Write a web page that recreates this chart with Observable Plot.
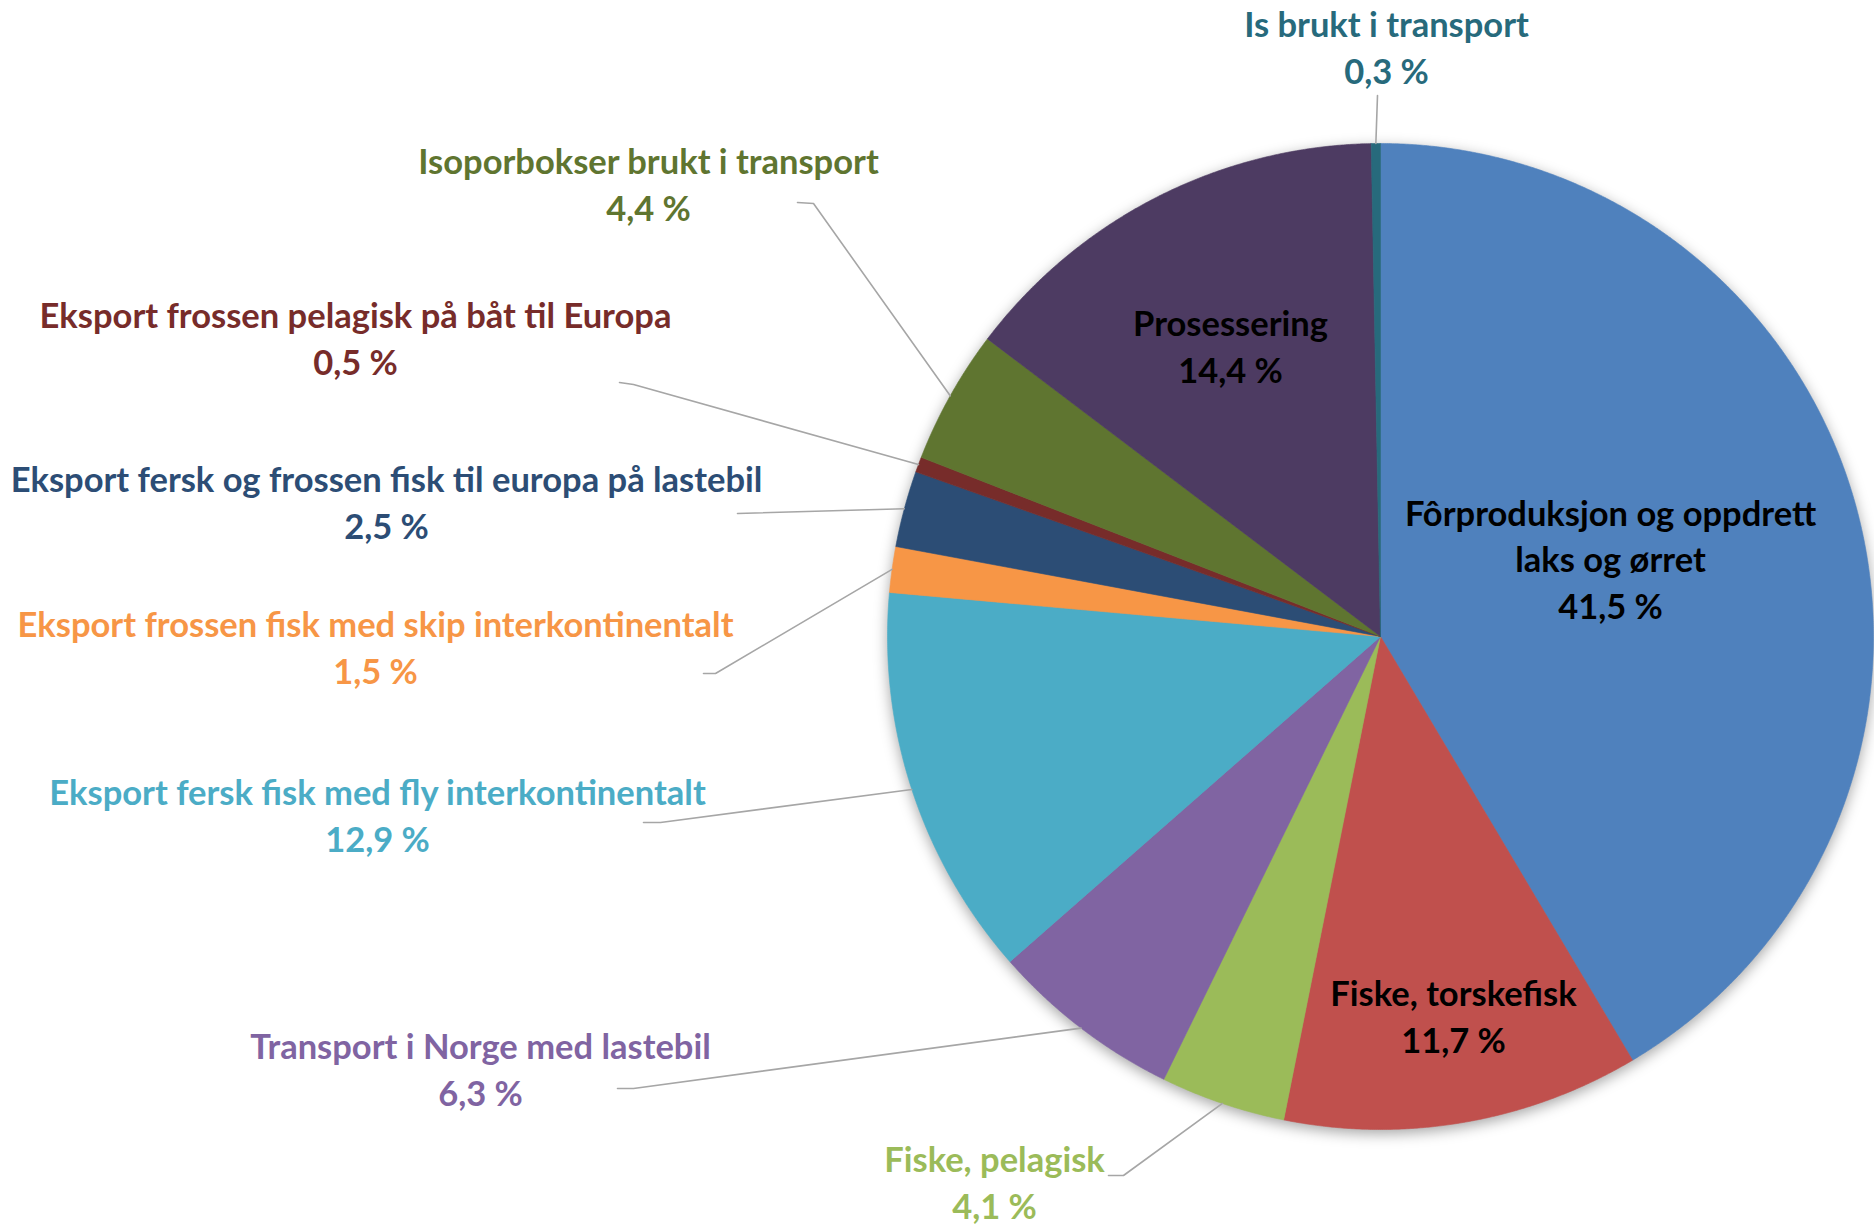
<!DOCTYPE html>
<html>
<head>
<meta charset="utf-8">
<script src="https://cdn.jsdelivr.net/npm/d3@7"></script>
<script src="https://cdn.jsdelivr.net/npm/@observablehq/plot@0.6"></script>
<style>
  html, body { margin: 0; padding: 0; background: #ffffff; }
  #chart svg { display: block; }
</style>
</head>
<body>
<div id="chart"></div>
<script>
// ---- data ----
const names = [
  "Fôrproduksjon og oppdrett laks og ørret",
  "Fiske, torskefisk",
  "Fiske, pelagisk",
  "Transport i Norge med lastebil",
  "Eksport fersk fisk med fly interkontinentalt",
  "Eksport frossen fisk med skip interkontinentalt",
  "Eksport fersk og frossen fisk til europa på lastebil",
  "Eksport frossen pelagisk på båt til Europa",
  "Isoporbokser brukt i transport",
  "Prosessering",
  "Is brukt i transport"
];
const values = [41.5, 11.7, 4.1, 6.3, 12.9, 1.5, 2.5, 0.5, 4.4, 14.4, 0.3];
const labelLines = [
  "Fôrproduksjon og oppdrett\nlaks og ørret",
  "Fiske, torskefisk",
  "Fiske, pelagisk",
  "Transport i Norge med lastebil",
  "Eksport fersk fisk med fly interkontinentalt",
  "Eksport frossen fisk med skip interkontinentalt",
  "Eksport fersk og frossen fisk til europa på lastebil",
  "Eksport frossen pelagisk på båt til Europa",
  "Isoporbokser brukt i transport",
  "Prosessering",
  "Is brukt i transport"
];
const colors = ["#4F81BD", "#C0504D", "#9BBB59", "#8064A2", "#4BACC6", "#F79646",
                "#2C4D75", "#772C2A", "#5F7530", "#4D3B62", "#276A7C"];

// ---- layout (label block centres, leader-line start & elbow) ----
const layout = [
  {x: 1610, y: 557, inside: true},
  {x: 1453, y: 1014, inside: true},
  {x: 994, y: 1180, leader: [[1108, 1175], [1123, 1175]]},
  {x: 480, y: 1067, leader: [[617, 1088], [633, 1088]]},
  {x: 377, y: 813, leader: [[643, 822], [660, 822]]},
  {x: 375, y: 645, leader: [[703, 673], [715, 673]]},
  {x: 386, y: 500, leader: [[737, 513], [737, 513]]},
  {x: 355, y: 336, leader: [[619, 382], [633, 384]]},
  {x: 648, y: 182, leader: [[797, 202], [813, 203]]},
  {x: 1230, y: 344, inside: true},
  {x: 1386, y: 45, leader: [[1377, 95], [1377, 95]]}
];

const W = 1874, H = 1225, CX = 1380, CY = 636, R = 493;
const FONT = "Lato, 'Open Sans', sans-serif";
const FS = 34.5;

const rows = names.map((name, i) => ({name, value: values[i], i}));
const arcs = d3.pie().sort(null).value(d => d.value).startAngle(0).endAngle(2 * Math.PI)(rows);

const fmt = v => v.toFixed(1).replace(".", ",") + " %";

// slice polygons
const slicePts = arcs.flatMap(a => {
  const name = a.data.name;
  const pts = [{name, x: CX, y: CY}];
  const n = Math.max(3, Math.ceil((a.endAngle - a.startAngle) / 0.004));
  for (let k = 0; k <= n; ++k) {
    const ang = a.startAngle + (a.endAngle - a.startAngle) * k / n;
    pts.push({name, x: CX + R * Math.sin(ang), y: CY - R * Math.cos(ang)});
  }
  pts.push({name, x: CX, y: CY});
  return pts;
});

// leader lines
const leaderPts = arcs.flatMap((a, i) => {
  const L = layout[i];
  if (!L.leader) return [];
  const mid = (a.startAngle + a.endAngle) / 2;
  const name = a.data.name;
  return [
    {name, x: L.leader[0][0], y: L.leader[0][1]},
    {name, x: L.leader[1][0], y: L.leader[1][1]},
    {name, x: CX + R * Math.sin(mid), y: CY - R * Math.cos(mid)}
  ];
});

const labels = arcs.map((a, i) => ({
  name: a.data.name,
  text: labelLines[i] + "\n" + fmt(a.data.value),
  x: layout[i].x,
  y: layout[i].y,
  inside: !!layout[i].inside
}));

const textOpts = {
  x: "x", y: "y", text: "text",
  fontSize: FS, fontWeight: "bold", fontFamily: FONT, lineHeight: 46.6 / FS,
  lineAnchor: "middle", textAnchor: "middle"
};

const chart = Plot.plot({
  width: W,
  height: H,
  margin: 0,
  style: {background: "#ffffff", overflow: "visible"},
  x: {domain: [0, W], range: [0, W], axis: null},
  y: {domain: [0, H], range: [0, H], axis: null},
  color: {domain: names, range: colors},
  marks: [
    Plot.line(slicePts, {x: "x", y: "y", z: "name", fill: "name", stroke: "name", strokeWidth: 0.6, curve: "linear"}),
    Plot.line(leaderPts, {x: "x", y: "y", z: "name", stroke: "#A6A6A6", strokeWidth: 1.6}),
    Plot.text(labels.filter(d => !d.inside), {...textOpts, fill: "name"}),
    Plot.text(labels.filter(d => d.inside), {...textOpts, fill: "#000000"})
  ]
});
document.getElementById("chart").appendChild(chart);
const sliceGroup = chart.querySelector('g[aria-label="line"]');
if (sliceGroup) sliceGroup.setAttribute("style", "filter: drop-shadow(0px 4px 7px rgba(0,0,0,0.35));");
</script>
</body>
</html>
